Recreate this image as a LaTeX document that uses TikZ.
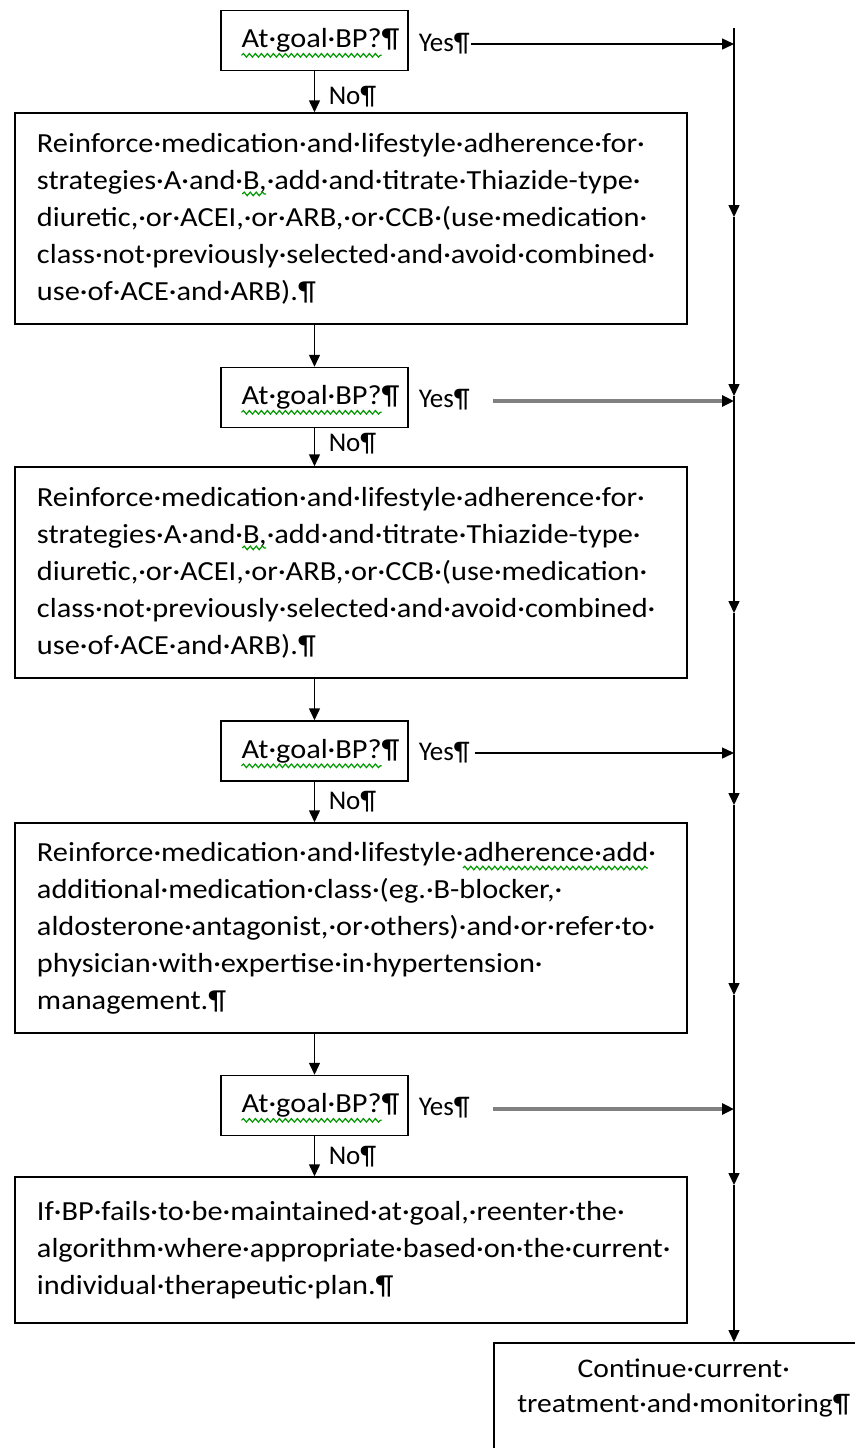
\documentclass[tikz,border=0pt]{standalone}
\usepackage{fontspec}
\setmainfont{Carlito}[FakeStretch=1.1]
\newfontfamily\plainf{Carlito}
\usetikzlibrary{arrows.meta,decorations.pathmorphing}
\newcommand\ffont{\fontsize{13.8pt}{18.5pt}\selectfont}
\newcommand\lfont{\plainf\fontsize{13.5pt}{18.5pt}\selectfont}
\newcommand\cfont{\fontsize{13.45pt}{17.5pt}\selectfont}
\newlength\gqa \newlength\gqb
\newlength\gba \newlength\gbb
\newlength\gca \newlength\gcb
\begin{document}
\settowidth{\gqa}{\ffont At·goal·BP?¶}%
\settowidth{\gqb}{\ffont At·goal·BP?}%
\settowidth{\gba}{\ffont strategies·A·and·}%
\settowidth{\gbb}{\ffont B,}%
\settowidth{\gca}{\ffont Reinforce·medication·and·lifestyle·}%
\settowidth{\gcb}{\ffont adherence·add}%
\begin{tikzpicture}[x=0.5pt,y=-0.5pt,
  font=\ffont,
  line width=0.75pt,
  >={Triangle[length=6pt,width=5.5pt]},
  qbox/.style={draw, minimum width=93.5pt, minimum height=30pt, inner sep=0pt},
  bigbox/.style={draw, minimum width=336pt, text width=314pt, inner xsep=11pt, inner ysep=0pt, align=left},
  lbl/.style={anchor=west, inner sep=0pt, font=\lfont},
  grayarrow/.style={-{Triangle[length=6pt,width=5.5pt,color=black]}, draw=black!50, line width=1.6pt},
  squig/.style={draw=green!60!black, line width=0.6pt, decorate, decoration={snake, amplitude=0.9pt, segment length=3pt}},
  ]
\useasboundingbox (0,0) rectangle (855,1448);
\clip (0,0) rectangle (855,1448);
\fill[white] (0,0) rectangle (855,1448);

% decision boxes
\node[qbox] (q1) at (314.5,40.5) {\hspace*{6pt}At·goal·BP?¶};
\node[qbox] (q2) at (314.5,397.5) {\hspace*{6pt}At·goal·BP?¶};
\node[qbox] (q3) at (314.5,751) {\hspace*{6pt}At·goal·BP?¶};
\node[qbox] (q4) at (314.5,1105.5) {\hspace*{6pt}At·goal·BP?¶};

% yes / no labels
\node[lbl] (y1) at (418,44) {Yes¶};
\node[lbl] (y2) at (418,400) {Yes¶};
\node[lbl] (y3) at (418,753) {Yes¶};
\node[lbl] (y4) at (418,1108) {Yes¶};
\node[lbl] (n1) at (328,97) {No¶};
\node[lbl] (n2) at (328,444) {No¶};
\node[lbl] (n3) at (328,802) {No¶};
\node[lbl] (n4) at (328,1157) {No¶};

% action boxes
\node[bigbox, minimum height=105.5pt] (b1) at (351,218.5) {Reinforce·medication·and·lifestyle·adherence·for·\\
strategies·A·and·B,·add·and·titrate·Thiazide-type·\\
diuretic,·or·ACEI,·or·ARB,·or·CCB·(use·medication·\\
class·not·previously·selected·and·avoid·combined·\\
use·of·ACE·and·ARB).¶};
\node[bigbox, minimum height=105.5pt] (b2) at (351,572.5) {Reinforce·medication·and·lifestyle·adherence·for·\\
strategies·A·and·B,·add·and·titrate·Thiazide-type·\\
diuretic,·or·ACEI,·or·ARB,·or·CCB·(use·medication·\\
class·not·previously·selected·and·avoid·combined·\\
use·of·ACE·and·ARB).¶};
\node[bigbox, minimum height=105pt] (b3) at (351,928) {Reinforce·medication·and·lifestyle·adherence·add·\\
additional·medication·class·(eg.·B-blocker,·\\
aldosterone·antagonist,·or·others)·and·or·refer·to·\\
physician·with·expertise·in·hypertension·\\
management.¶};
\node[bigbox, minimum height=73pt] (b4) at (351,1250) {If·BP·fails·to·be·maintained·at·goal,·reenter·the·\\
algorithm·where·appropriate·based·on·the·current·\\
individual·therapeutic·plan.¶};

% final box
\node[draw, minimum width=190pt, minimum height=80pt, anchor=north west] (cont) at (493,1342) {};
\node[anchor=north, align=center, inner sep=0pt, font=\cfont] (ct) at ([yshift=-8pt]cont.north) {Continue·current·\\treatment·and·monitoring¶};

% spelling squiggles
\foreach \q in {q1,q2,q3,q4}
  \draw[squig] ([xshift=3pt-0.5\gqa, yshift=-3.8pt]\q.base) -- ++(\gqb,0pt);
\draw[squig] ([xshift=11pt+\gba, yshift=12.3pt]b1.west) -- ++(\gbb,0pt);
\draw[squig] ([xshift=11pt+\gba, yshift=12.3pt]b2.west) -- ++(\gbb,0pt);
\draw[squig] ([xshift=11pt+\gca, yshift=30pt]b3.west) -- ++(\gcb,0pt);

% main flow
\draw[->] (q1.south) -- (q1.south |- b1.north);
\draw[->] (b1.south -| q2) -- (q2.north);
\draw[->] (q2.south) -- (q2.south |- b2.north);
\draw[->] (b2.south -| q3) -- (q3.north);
\draw[->] (q3.south) -- (q3.south |- b3.north);
\draw[->] (b3.south -| q4) -- (q4.north);
\draw[->] (q4.south) -- (q4.south |- b4.north);

% right-hand line
\coordinate (r0) at (734,28);
\coordinate (a1) at (734,217);
\coordinate (a2) at (734,396);
\coordinate (a3) at (734,613);
\coordinate (a4) at (734,805);
\coordinate (a5) at (734,995);
\coordinate (a6) at (734,1185);
\draw[->] (r0) -- (a1);
\draw[->] (a1) -- (a2);
\draw[->] (a2) -- (a3);
\draw[->] (a3) -- (a4);
\draw[->] (a4) -- (a5);
\draw[->] (a5) -- (a6);
\draw[->] (a6) -- (r0 |- cont.north);

% yes arrows
\coordinate (s2) at (493,401);
\coordinate (s4) at (493,1109);
\draw[->] (y1.east) -- (y1.east -| r0);
\draw[grayarrow] (s2) -- (s2 -| r0);
\draw[->] ([xshift=2pt]y3.east) -- (y3.east -| r0);
\draw[grayarrow] (s4) -- (s4 -| r0);
\end{tikzpicture}
\end{document}
